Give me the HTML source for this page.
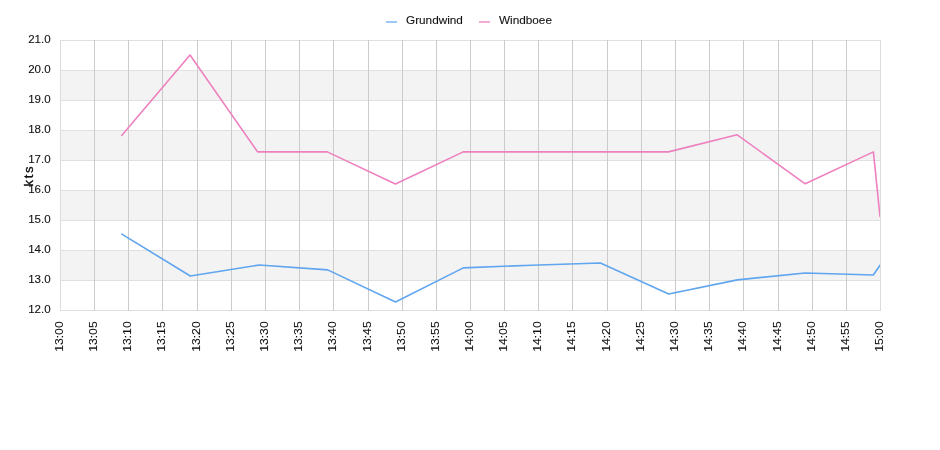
<!DOCTYPE html>
<html><head><meta charset="utf-8"><style>
html,body{margin:0;padding:0;background:#fff;width:940px;height:450px;overflow:hidden}
svg{display:block;will-change:transform}
text{font-family:"Liberation Sans",sans-serif;fill:#111;stroke:#111;stroke-width:0.1px}
</style></head><body>
<svg width="940" height="450" viewBox="0 0 940 450">
<defs><clipPath id="pc"><rect x="60" y="40" width="820" height="270"/></clipPath></defs>
<rect x="60" y="71" width="820" height="29" fill="#f3f3f3"/>
<rect x="60" y="131" width="820" height="29" fill="#f3f3f3"/>
<rect x="60" y="191" width="820" height="29" fill="#f3f3f3"/>
<rect x="60" y="251" width="820" height="29" fill="#f3f3f3"/>
<rect x="60" y="40" width="821" height="1" fill="#e0e0e0"/>
<rect x="60" y="70" width="821" height="1" fill="#e0e0e0"/>
<rect x="60" y="100" width="821" height="1" fill="#e0e0e0"/>
<rect x="60" y="130" width="821" height="1" fill="#e0e0e0"/>
<rect x="60" y="160" width="821" height="1" fill="#e0e0e0"/>
<rect x="60" y="190" width="821" height="1" fill="#e0e0e0"/>
<rect x="60" y="220" width="821" height="1" fill="#e0e0e0"/>
<rect x="60" y="250" width="821" height="1" fill="#e0e0e0"/>
<rect x="60" y="280" width="821" height="1" fill="#e0e0e0"/>
<rect x="60" y="310" width="821" height="1" fill="#e0e0e0"/>
<rect x="60" y="40" width="1" height="271" fill="#dcdcdc"/>
<rect x="94" y="40" width="1" height="271" fill="#cbcbcb"/>
<rect x="128" y="40" width="1" height="271" fill="#cbcbcb"/>
<rect x="162" y="40" width="1" height="271" fill="#cbcbcb"/>
<rect x="197" y="40" width="1" height="271" fill="#cbcbcb"/>
<rect x="231" y="40" width="1" height="271" fill="#cbcbcb"/>
<rect x="265" y="40" width="1" height="271" fill="#cbcbcb"/>
<rect x="299" y="40" width="1" height="271" fill="#cbcbcb"/>
<rect x="333" y="40" width="1" height="271" fill="#cbcbcb"/>
<rect x="368" y="40" width="1" height="271" fill="#cbcbcb"/>
<rect x="402" y="40" width="1" height="271" fill="#cbcbcb"/>
<rect x="436" y="40" width="1" height="271" fill="#cbcbcb"/>
<rect x="470" y="40" width="1" height="271" fill="#cbcbcb"/>
<rect x="504" y="40" width="1" height="271" fill="#cbcbcb"/>
<rect x="538" y="40" width="1" height="271" fill="#cbcbcb"/>
<rect x="572" y="40" width="1" height="271" fill="#cbcbcb"/>
<rect x="607" y="40" width="1" height="271" fill="#cbcbcb"/>
<rect x="641" y="40" width="1" height="271" fill="#cbcbcb"/>
<rect x="675" y="40" width="1" height="271" fill="#cbcbcb"/>
<rect x="709" y="40" width="1" height="271" fill="#cbcbcb"/>
<rect x="743" y="40" width="1" height="271" fill="#cbcbcb"/>
<rect x="778" y="40" width="1" height="271" fill="#cbcbcb"/>
<rect x="812" y="40" width="1" height="271" fill="#cbcbcb"/>
<rect x="846" y="40" width="1" height="271" fill="#cbcbcb"/>
<rect x="880" y="40" width="1" height="271" fill="#dcdcdc"/>
<text transform="translate(50.6,42.7) scale(1.05,1)" text-anchor="end" font-size="11">21.0</text>
<text transform="translate(50.6,72.7) scale(1.05,1)" text-anchor="end" font-size="11">20.0</text>
<text transform="translate(50.6,102.7) scale(1.05,1)" text-anchor="end" font-size="11">19.0</text>
<text transform="translate(50.6,132.7) scale(1.05,1)" text-anchor="end" font-size="11">18.0</text>
<text transform="translate(50.6,162.7) scale(1.05,1)" text-anchor="end" font-size="11">17.0</text>
<text transform="translate(50.6,192.7) scale(1.05,1)" text-anchor="end" font-size="11">16.0</text>
<text transform="translate(50.6,222.7) scale(1.05,1)" text-anchor="end" font-size="11">15.0</text>
<text transform="translate(50.6,252.7) scale(1.05,1)" text-anchor="end" font-size="11">14.0</text>
<text transform="translate(50.6,282.7) scale(1.05,1)" text-anchor="end" font-size="11">13.0</text>
<text transform="translate(50.6,312.7) scale(1.05,1)" text-anchor="end" font-size="11">12.0</text>
<text transform="translate(63.30,321.3) rotate(-90) scale(1.11,1)" text-anchor="end" font-size="11">13:00</text>
<text transform="translate(97.30,321.3) rotate(-90) scale(1.11,1)" text-anchor="end" font-size="11">13:05</text>
<text transform="translate(131.30,321.3) rotate(-90) scale(1.11,1)" text-anchor="end" font-size="11">13:10</text>
<text transform="translate(165.30,321.3) rotate(-90) scale(1.11,1)" text-anchor="end" font-size="11">13:15</text>
<text transform="translate(200.30,321.3) rotate(-90) scale(1.11,1)" text-anchor="end" font-size="11">13:20</text>
<text transform="translate(234.30,321.3) rotate(-90) scale(1.11,1)" text-anchor="end" font-size="11">13:25</text>
<text transform="translate(268.30,321.3) rotate(-90) scale(1.11,1)" text-anchor="end" font-size="11">13:30</text>
<text transform="translate(302.30,321.3) rotate(-90) scale(1.11,1)" text-anchor="end" font-size="11">13:35</text>
<text transform="translate(336.30,321.3) rotate(-90) scale(1.11,1)" text-anchor="end" font-size="11">13:40</text>
<text transform="translate(371.30,321.3) rotate(-90) scale(1.11,1)" text-anchor="end" font-size="11">13:45</text>
<text transform="translate(405.30,321.3) rotate(-90) scale(1.11,1)" text-anchor="end" font-size="11">13:50</text>
<text transform="translate(439.30,321.3) rotate(-90) scale(1.11,1)" text-anchor="end" font-size="11">13:55</text>
<text transform="translate(473.30,321.3) rotate(-90) scale(1.11,1)" text-anchor="end" font-size="11">14:00</text>
<text transform="translate(507.30,321.3) rotate(-90) scale(1.11,1)" text-anchor="end" font-size="11">14:05</text>
<text transform="translate(541.30,321.3) rotate(-90) scale(1.11,1)" text-anchor="end" font-size="11">14:10</text>
<text transform="translate(575.30,321.3) rotate(-90) scale(1.11,1)" text-anchor="end" font-size="11">14:15</text>
<text transform="translate(610.30,321.3) rotate(-90) scale(1.11,1)" text-anchor="end" font-size="11">14:20</text>
<text transform="translate(644.30,321.3) rotate(-90) scale(1.11,1)" text-anchor="end" font-size="11">14:25</text>
<text transform="translate(678.30,321.3) rotate(-90) scale(1.11,1)" text-anchor="end" font-size="11">14:30</text>
<text transform="translate(712.30,321.3) rotate(-90) scale(1.11,1)" text-anchor="end" font-size="11">14:35</text>
<text transform="translate(746.30,321.3) rotate(-90) scale(1.11,1)" text-anchor="end" font-size="11">14:40</text>
<text transform="translate(781.30,321.3) rotate(-90) scale(1.11,1)" text-anchor="end" font-size="11">14:45</text>
<text transform="translate(815.30,321.3) rotate(-90) scale(1.11,1)" text-anchor="end" font-size="11">14:50</text>
<text transform="translate(849.30,321.3) rotate(-90) scale(1.11,1)" text-anchor="end" font-size="11">14:55</text>
<text transform="translate(883.30,321.3) rotate(-90) scale(1.11,1)" text-anchor="end" font-size="11">15:00</text>
<text transform="translate(33.2,176.4) rotate(-90)" text-anchor="middle" font-size="13" style="stroke-width:0.35px" textLength="20" lengthAdjust="spacing">kts</text>
<polyline clip-path="url(#pc)" points="121.80,234.15 190.30,275.95 259.10,265.05 327.70,269.85 395.50,302.05 463.30,267.85 531.50,265.25 600.40,262.95 668.70,294.05 737.40,279.85 805.10,272.95 873.30,274.95 880.00,265.25" fill="none" stroke="#60a5ef" stroke-width="1.6" stroke-linejoin="round" stroke-linecap="round"/>
<polyline clip-path="url(#pc)" points="121.70,135.40 190.00,55.00 257.60,151.90 327.30,151.90 395.40,184.00 463.30,151.90 531.60,151.90 599.90,151.90 668.40,151.90 737.20,134.80 805.20,183.80 873.40,151.90 880.00,216.50" fill="none" stroke="#ee80bf" stroke-width="1.6" stroke-linejoin="round" stroke-linecap="round"/>
<rect x="386" y="21" width="11" height="2" fill="#9ccaf6"/>
<text transform="translate(406.0,23.9) scale(1.07,1)" font-size="11">Grundwind</text>
<rect x="479" y="21" width="11" height="2" fill="#f5aad3"/>
<text transform="translate(499.0,23.9) scale(1.07,1)" font-size="11">Windboee</text>
</svg>
</body></html>
